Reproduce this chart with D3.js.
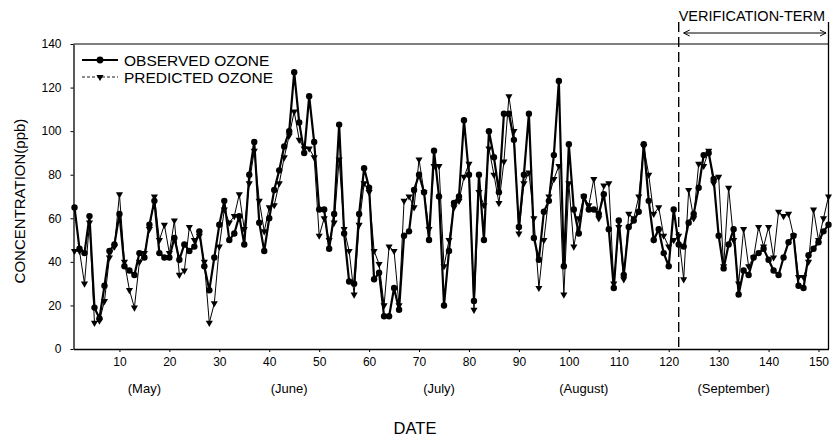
<!DOCTYPE html>
<html><head><meta charset="utf-8">
<script src="https://cdn.jsdelivr.net/npm/d3@7"></script>
<style>body{margin:0;background:#fff}svg{display:block}text{font-family:"Liberation Sans",Arial,sans-serif;fill:#000}</style>
</head><body><svg id="c" width="832" height="443"></svg>
<script>
const observed = [65,46,44,61,19,14,29,45,48,62,38,36,34,44,42,57,68,44,42,42,
51,41,48,45,47,54,38,27,42,57,68,50,53,61,48,80,95,58,45,60,
73,82,93,100,127,104,90,116,95,64,64,46,62,103,53,31,30,62,83,74,
32,35,15,15,28,18,52,54,73,80,72,50,91,70,20,45,67,70,105,80,
22,80,50,100,88,72,108,108,96,56,80,108,51,41,63,68,89,123,38,94,
64,53,70,64,64,62,71,55,28,59,34,56,59,63,94,68,50,55,44,38,
64,48,47,58,62,74,89,90,78,52,37,48,55,25,36,34,42,44,46,41,
36,34,42,49,52,29,28,43,46,49,54,57];
const predicted = [45,45,30,58,12,13,22,42,47,71,40,27,19,40,44,55,70,50,57,44,
59,34,36,56,50,52,40,12,21,47,64,58,61,71,55,76,91,68,54,65,
66,76,88,98,109,96,92,92,88,52,60,50,58,87,55,45,25,57,76,72,
45,39,20,47,45,20,68,70,65,87,72,55,84,84,38,50,65,68,79,85,
18,72,66,92,80,67,86,116,100,53,76,81,60,28,50,70,78,84,25,76,
47,60,70,66,78,60,75,76,30,56,32,62,60,70,93,80,62,65,52,47,
50,52,32,73,60,85,84,91,76,79,38,74,50,30,55,38,42,56,47,56,
42,63,61,62,52,33,33,40,64,50,60,70];
const days = d3.range(1, observed.length + 1);
const xTicks = [10,20,30,40,50,60,70,80,90,100,110,120,130,140,150];
const yTicks = [0,20,40,60,80,100,120,140];
const monthNames = ["(May)","(June)","(July)","(August)","(September)"];
const monthDays = [15,44,74,103,133];
const verifyStart = 122;
const seriesNames = ["OBSERVED OZONE","PREDICTED OZONE"];

const svg = d3.select("#c");
const x = d3.scaleLinear().domain([0.8,152]).range([73.5,828.5]);
const y = d3.scaleLinear().domain([0,140]).range([349,44]);

// axes
const gx = svg.append("g").attr("transform","translate(0,349)")
  .call(d3.axisBottom(x).tickValues(xTicks).tickSize(3).tickSizeOuter(0).tickPadding(5));
const gy = svg.append("g").attr("transform","translate(73.5,0)")
  .call(d3.axisLeft(y).tickValues(yTicks).tickSize(3).tickSizeOuter(0).tickPadding(9));
[gx,gy].forEach(g=>{
  g.selectAll("path").attr("stroke","#000").attr("stroke-width",1.3);
  g.selectAll("line").attr("stroke","#000");
  g.selectAll("text").attr("font-size",12).attr("font-family","Liberation Sans, Arial");
});
// frame top & right
svg.append("line").attr("x1",73.5).attr("x2",828.5).attr("y1",44).attr("y2",44).attr("stroke","#000").attr("stroke-width",1.1);
svg.append("line").attr("x1",828.5).attr("x2",828.5).attr("y1",22).attr("y2",349).attr("stroke","#000").attr("stroke-width",1.3);

// verification term
const vx = x(verifyStart);
svg.append("line").attr("x1",vx).attr("x2",vx).attr("y1",22).attr("y2",347)
  .attr("stroke","#000").attr("stroke-width",1.4).attr("stroke-dasharray","10,5");
svg.append("text").attr("x",vx).attr("y",21).attr("font-size",14.5).text("VERIFICATION-TERM");
const ay = 33;
svg.append("line").attr("x1",vx+5).attr("x2",826).attr("y1",ay).attr("y2",ay).attr("stroke","#000").attr("stroke-width",1);
svg.append("path").attr("d",`M${vx+11},${ay-3}L${vx+5},${ay}L${vx+11},${ay+3}`).attr("fill","none").attr("stroke","#000");
svg.append("path").attr("d",`M820,${ay-3}L826,${ay}L820,${ay+3}`).attr("fill","none").attr("stroke","#000");

// series
const line = d3.line().x((d,i)=>x(days[i])).y(d=>y(d));
svg.append("path").datum(predicted).attr("d",line).attr("fill","none").attr("stroke","#000").attr("stroke-width",1);
const tri = d3.symbol().type(d3.symbolTriangle).size(22);
svg.append("g").selectAll("path").data(predicted).join("path")
  .attr("d",tri).attr("transform",(d,i)=>`translate(${x(days[i])},${y(d)}) rotate(180)`).attr("fill","#000");
svg.append("path").datum(observed).attr("d",line).attr("fill","none").attr("stroke","#000").attr("stroke-width",2.2);
svg.append("g").selectAll("circle").data(observed).join("circle")
  .attr("cx",(d,i)=>x(days[i])).attr("cy",d=>y(d)).attr("r",3.2).attr("fill","#000");

// legend
const lg = svg.append("g");
lg.append("line").attr("x1",82).attr("x2",118).attr("y1",60).attr("y2",60).attr("stroke","#000").attr("stroke-width",2);
lg.append("circle").attr("cx",100).attr("cy",60).attr("r",3.4).attr("fill","#000");
lg.append("text").attr("x",124).attr("y",65.5).attr("font-size",15.5).text(seriesNames[0]);
lg.append("line").attr("x1",82).attr("x2",118).attr("y1",77).attr("y2",77).attr("stroke","#000").attr("stroke-width",0.9).attr("stroke-dasharray","3,2");
lg.append("path").attr("d",tri).attr("transform","translate(100,77) rotate(180)").attr("fill","#000");
lg.append("text").attr("x",124).attr("y",82.5).attr("font-size",15.5).text(seriesNames[1]);

// month labels
svg.append("g").selectAll("text").data(monthNames).join("text")
  .attr("x",(d,i)=>x(monthDays[i])).attr("y",393).attr("text-anchor","middle").attr("font-size",13).text(d=>d);

// axis titles
svg.append("text").attr("x",415).attr("y",434).attr("text-anchor","middle").attr("font-size",16.5).text("DATE");
svg.append("text").attr("transform","translate(25,201) rotate(-90)").attr("text-anchor","middle").attr("font-size",15).text("CONCENTRATION(ppb)");
</script></body></html>
